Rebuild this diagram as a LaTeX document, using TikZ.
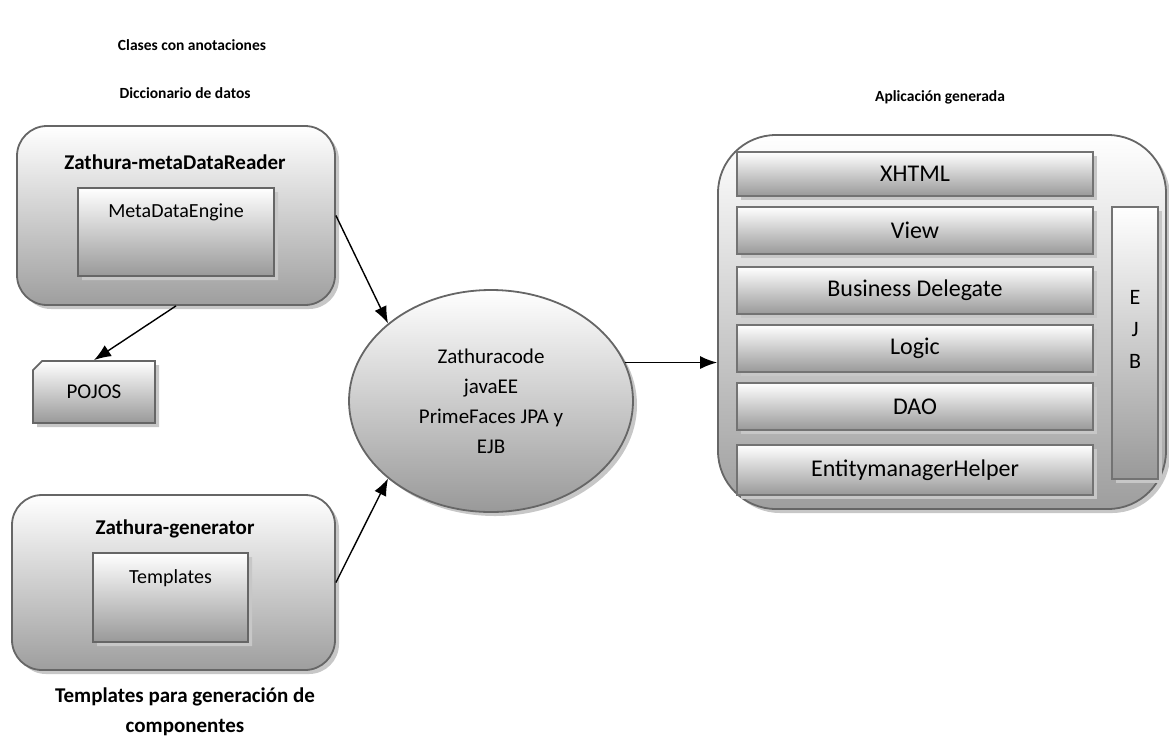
\documentclass[tikz,border=0pt]{standalone}
\usepackage{fontspec}
\setmainfont{Carlito}
\usetikzlibrary{shapes.geometric}
\usetikzlibrary{shapes.misc}
\usetikzlibrary{shadows}
\usetikzlibrary{arrows.meta}

\tikzset{
  shadowed/.style={drop shadow={shadow xshift=4pt,shadow yshift=-4pt,fill=black!22,opacity=1}},
  modbox/.style={rectangle,rounded corners=30pt,draw=black!60,line width=1.8pt,
    top color=white,bottom color=black!38,shadowed},
  notebox/.style={chamfered rectangle,chamfered rectangle corners=north west,
    chamfered rectangle xsep=6pt,draw=black!60,line width=1.8pt,
    top color=white,bottom color=black!40,shadowed,inner sep=0pt},
  layer/.style={rectangle,draw=black!55,line width=1.8pt,top color=white,
    bottom color=black!40,shadowed,minimum width=356pt,inner sep=0pt,
    font=\fontsize{24}{28}\selectfont},
  caption/.style={font=\bfseries\fontsize{15.5}{20}\selectfont},
  boxtitle/.style={font=\bfseries\fontsize{21}{25}\selectfont},
  conn/.style={line width=1.4pt,-{Latex[length=17pt,width=13pt]}}
}

\begin{document}
\begin{tikzpicture}[x=1pt,y=-1pt]
  \useasboundingbox (0,0) rectangle (1169,740);

  % captions
  \node[caption] (capclases) at (192,45) {Clases con anotaciones};
  \node[caption] (capdicc) at (185,93) {Diccionario de datos};
  \node[caption] (capapp) at (940,97) {Aplicación generada};
  \node[boxtitle,align=center,font=\bfseries\fontsize{21}{30}\selectfont] (captempl) at (185,712)
    {Templates para generación de\\componentes};

  % metadata reader
  \node[modbox,minimum width=318pt,minimum height=179pt] (reader) at (176,215.5) {};
  \node[boxtitle] (readertitle) at (175,162) {Zathura-metaDataReader};
  \node[notebox,minimum width=196pt,minimum height=88pt] (engine) at (176,232) {};
  \node[font=\fontsize{20}{24}\selectfont] (enginetxt) at (176,212) {MetaDataEngine};
  \node[notebox,minimum width=122pt,minimum height=62pt,font=\fontsize{21}{24}\selectfont] (pojos) at (94,392) {POJOS};

  % generator
  \node[modbox,minimum width=323pt,minimum height=175pt] (generator) at (173.5,582.5) {};
  \node[boxtitle] (gentitle) at (175,529) {Zathura-generator};
  \node[notebox,minimum width=155pt,minimum height=89pt] (templ) at (170.5,597.5) {};
  \node[font=\fontsize{20}{24}\selectfont] (templtxt) at (170.5,578) {Templates};

  % zathuracode
  \node[ellipse,draw=black!60,line width=1.8pt,top color=white,bottom color=black!40,
    shadowed,minimum width=284pt,minimum height=222pt,align=center,
    font=\fontsize{21}{30}\selectfont] (zc) at (491,401)
    {Zathuracode\\javaEE\\PrimeFaces JPA y\\EJB};

  % generated application
  \node[modbox,rounded corners=58pt,minimum width=448pt,minimum height=374pt] (app) at (942,322) {};
  \node[layer,minimum height=44pt] (xhtml) at (915,174) {XHTML};
  \node[layer,minimum height=47pt] (view) at (915,230.5) {View};
  \node[layer,minimum height=47pt] (bdel) at (915,290.5) {Business Delegate};
  \node[layer,minimum height=47pt] (logic) at (915,348.5) {Logic};
  \node[layer,minimum height=47pt] (dao) at (915,406.5) {DAO};
  \node[layer,minimum height=50pt] (emh) at (915,470) {EntitymanagerHelper};
  \node[layer,minimum width=46pt,minimum height=272pt] (ejb) at (1135,343) {};
  \node[align=center,font=\fontsize{22}{32}\selectfont] (ejbtxt) at (1135,329) {E\\J\\B};

  % connectors
  \draw[conn] (reader.east) -- (zc.143);
  \draw[conn] (generator.east) -- (zc.217);
  \draw[conn] (reader.south) -- (pojos.north);
  \draw[conn] (zc.16) -- (zc.16 -| app.west);
\end{tikzpicture}
\end{document}
